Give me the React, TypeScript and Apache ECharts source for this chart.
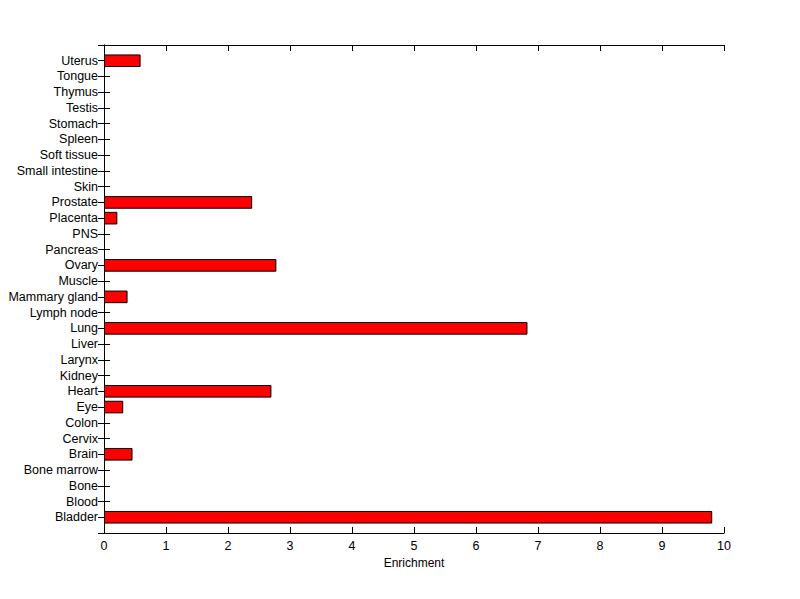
import React, { useEffect, useRef } from "react";
import * as echarts from "echarts";

const categories = [
  "Bladder", "Blood", "Bone", "Bone marrow", "Brain", "Cervix", "Colon", "Eye",
  "Heart", "Kidney", "Larynx", "Liver", "Lung", "Lymph node", "Mammary gland",
  "Muscle", "Ovary", "Pancreas", "PNS", "Placenta", "Prostate", "Skin",
  "Small intestine", "Soft tissue", "Spleen", "Stomach", "Testis", "Thymus",
  "Tongue", "Uterus",
];
const enrichment = [
  9.81, 0, 0, 0, 0.46, 0, 0, 0.31,
  2.70, 0, 0, 0, 6.83, 0, 0.38,
  0, 2.78, 0, 0, 0.215, 2.39, 0,
  0, 0, 0, 0, 0, 0,
  0, 0.59,
];
const xTicks = { min: 0, max: 10, interval: 1 };
const xName = "Enrichment";

export default function App() {
  const ref = useRef<HTMLDivElement>(null);
  useEffect(() => {
    if (!ref.current) return;
    const chart = echarts.init(ref.current, null, { renderer: "svg" });
    // pad the category axis so that categories sit at 1..30 on a 0..31 range
    const axisData = ["", ...categories, ""];
    const seriesData: (number | string)[] = ["-", ...enrichment.map((v) => (v === 0 ? "-" : v)), "-"];
    const font = { fontFamily: "Liberation Sans, Arial, sans-serif", fontSize: 12.5, color: "#000" };
    const line = { show: true, lineStyle: { color: "#000", width: 1 } };
    const tick = { show: true, inside: true, length: 6, lineStyle: { color: "#000", width: 1 } };
    chart.setOption({
      animation: false,
      backgroundColor: "#fff",
      grid: { left: 104, right: 76, top: 45, bottom: 66, containLabel: false },
      xAxis: [
        {
          type: "value",
          position: "bottom",
          ...xTicks,
          name: xName,
          nameLocation: "middle",
          nameGap: 23,
          nameTextStyle: { ...font, fontSize: 12 },
          axisLine: line,
          axisTick: tick,
          axisLabel: { ...font, margin: 6 },
          splitLine: { show: false },
        },
        {
          type: "value",
          position: "top",
          ...xTicks,
          axisLine: line,
          axisTick: tick,
          axisLabel: { show: false },
          splitLine: { show: false },
        },
      ],
      yAxis: [
        {
          type: "category",
          position: "left",
          data: axisData,
          boundaryGap: false,
          axisLine: line,
          axisTick: { ...tick, interval: 0 },
          axisLabel: { ...font, interval: 0, margin: 6 },
          splitLine: { show: false },
        },
        {
          type: "category",
          position: "right",
          data: axisData,
          boundaryGap: false,
          axisLine: line,
          axisTick: { ...tick, interval: 0 },
          axisLabel: { show: false },
          splitLine: { show: false },
        },
      ],
      series: [
        {
          type: "bar",
          xAxisIndex: 0,
          yAxisIndex: 0,
          data: seriesData,
          barWidth: 12.6,
          itemStyle: { color: "#ff0000", borderColor: "#000", borderWidth: 1 },
        },
      ],
    });
    return () => chart.dispose();
  }, []);
  return (
    <div
      ref={ref}
      style={{ position: "fixed", left: 0, top: 0, width: 800, height: 599, background: "#fff" }}
    />
  );
}
